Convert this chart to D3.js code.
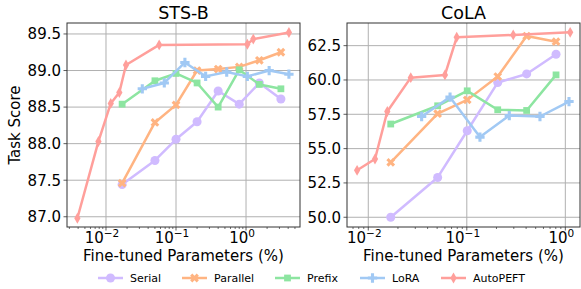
<!DOCTYPE html>
<meta charset="utf-8">
<style>
body { margin: 0; background: #fff; }
text { font-family: "DejaVu Sans", sans-serif; fill: #000; }
</style>
<body>
<script src="https://d3js.org/d3.v7.min.js"></script>
<script>

// methods / legend
const methods = ["Serial", "Parallel", "Prefix", "LoRA", "AutoPEFT"];
const colors  = ["#d0bbff", "#ffb482", "#8de5a1", "#a1c9f4", "#ff9f9b"];

// STS-B (fine-tuned params %, task score)
const stsbSerialX   = [0.017, 0.05, 0.1, 0.2, 0.4, 0.8, 1.55, 3.15];
const stsbSerialY   = [87.44, 87.77, 88.06, 88.30, 88.72, 88.54, 88.83, 88.61];
const stsbParallelX = [0.017, 0.05, 0.1, 0.2, 0.4, 0.8, 1.55, 3.15];
const stsbParallelY = [87.46, 88.29, 88.53, 89.00, 89.02, 89.05, 89.14, 89.25];
const stsbPrefixX   = [0.017, 0.05, 0.1, 0.2, 0.4, 0.8, 1.55, 3.15];
const stsbPrefixY   = [88.54, 88.86, 88.96, 88.83, 88.50, 89.01, 88.81, 88.75];
const stsbLoraX     = [0.033, 0.068, 0.134, 0.265, 0.53, 1.045, 2.14, 4.1];
const stsbLoraY     = [88.75, 88.83, 89.11, 88.92, 88.98, 88.92, 89.00, 88.95];
const stsbAutoX     = [0.0039, 0.0078, 0.0117, 0.0155, 0.0193, 0.0575, 1.045, 1.27, 4.1];
const stsbAutoY     = [86.98, 88.03, 88.55, 88.70, 89.075, 89.35, 89.36, 89.43, 89.52];

// CoLA
const colaSerialX   = [0.0169, 0.0506, 0.101, 0.206, 0.405, 0.805];
const colaSerialY   = [50.0, 52.9, 56.3, 59.81, 60.44, 61.87];
const colaParallelX = [0.0169, 0.0506, 0.101, 0.206, 0.405, 0.805];
const colaParallelY = [54.0, 57.54, 58.55, 60.25, 63.2, 62.79];
const colaPrefixX   = [0.0169, 0.0506, 0.101, 0.206, 0.405, 0.805];
const colaPrefixY   = [56.79, 58.12, 59.21, 57.83, 57.78, 60.37];
const colaLoraX     = [0.0348, 0.0676, 0.136, 0.27, 0.553, 1.09];
const colaLoraY     = [57.34, 58.75, 55.84, 57.41, 57.34, 58.43];
const colaAutoX     = [0.0077, 0.0117, 0.0156, 0.027, 0.060, 0.079, 0.296, 1.12];
const colaAutoY     = [53.42, 54.24, 57.7, 60.17, 60.37, 63.11, 63.28, 63.47];

const stsbTicksY = [87.0, 87.5, 88.0, 88.5, 89.0, 89.5];
const colaTicksY = [50.0, 52.5, 55.0, 57.5, 60.0, 62.5];
const ticksX = [0.01, 0.1, 1];
const xExpLabels = ["\u22122", "\u22121", "0"];

var W = 581, H = 289;
var svg = d3.select("body").append("svg").attr("width", W).attr("height", H);

var symbols = [
  d3.symbol().type(d3.symbolCircle).size(64),
  d3.symbol().type(d3.symbolCross).size(48),   // X (rotated)
  d3.symbol().type(d3.symbolSquare).size(46),
  d3.symbol().type(d3.symbolCross).size(48),   // P
  d3.symbol().type(d3.symbolDiamond).size(34)
];
var rotate = [0, 45, 0, 0, 0];

function zipXY(xs, ys) { return xs.map(function(x, i) { return [x, ys[i]]; }); }

function drawPanel(opts) {
  var x = d3.scaleLog().domain(opts.xDomain).range([opts.left, opts.right]);
  var y = d3.scaleLinear().domain(opts.yDomain).range([opts.bottom, opts.top]);
  var g = svg.append("g");

  // grid
  g.selectAll(".gx").data(ticksX).enter().append("line")
    .attr("x1", d => x(d)).attr("x2", d => x(d))
    .attr("y1", opts.top).attr("y2", opts.bottom)
    .attr("stroke", "#b0b0b0").attr("stroke-width", 1);
  g.selectAll(".gy").data(opts.ticksY).enter().append("line")
    .attr("x1", opts.left).attr("x2", opts.right)
    .attr("y1", d => y(d)).attr("y2", d => y(d))
    .attr("stroke", "#b0b0b0").attr("stroke-width", 1);

  // series
  opts.series.forEach(function(s, i) {
    var pts = zipXY(s[0], s[1]);
    g.append("path").datum(pts)
      .attr("fill", "none").attr("stroke", colors[i]).attr("stroke-width", 2.5)
      .attr("stroke-linejoin", "round")
      .attr("d", d3.line().x(d => x(d[0])).y(d => y(d[1])));
    g.selectAll(".m" + i).data(pts).enter().append("path")
      .attr("d", symbols[i])
      .attr("fill", colors[i])
      .attr("transform", d => "translate(" + x(d[0]) + "," + y(d[1]) + ") rotate(" + rotate[i] + ")");
  });

  // x axis: major + minor ticks
  var minor = x.ticks().filter(t => ticksX.indexOf(t) < 0);
  g.selectAll(".mt").data(minor).enter().append("line")
    .attr("x1", d => x(d)).attr("x2", d => x(d))
    .attr("y1", opts.bottom).attr("y2", opts.bottom + 2)
    .attr("stroke", "#333").attr("stroke-width", 0.7);
  g.selectAll(".Mt").data(ticksX).enter().append("line")
    .attr("x1", d => x(d)).attr("x2", d => x(d))
    .attr("y1", opts.bottom).attr("y2", opts.bottom + 3.5)
    .attr("stroke", "#333").attr("stroke-width", 0.8);
  var xl = g.selectAll(".xl").data(ticksX).enter().append("text")
    .attr("x", (d, i) => x(d) - 4).attr("y", opts.bottom + 16)
    .attr("text-anchor", "middle").attr("font-size", "15px");
  xl.append("tspan").text("10");
  xl.append("tspan").attr("dy", -6).attr("font-size", "10.5px").text((d, i) => xExpLabels[i]);

  // y axis
  g.selectAll(".yt").data(opts.ticksY).enter().append("line")
    .attr("x1", opts.left - 3.5).attr("x2", opts.left)
    .attr("y1", d => y(d)).attr("y2", d => y(d))
    .attr("stroke", "#333").attr("stroke-width", 0.8);
  g.selectAll(".yl").data(opts.ticksY).enter().append("text")
    .attr("x", opts.left - 6).attr("y", d => y(d)).attr("dy", "0.36em")
    .attr("text-anchor", "end").attr("font-size", "15px")
    .text(d => d3.format(".1f")(d));

  // frame
  g.append("rect")
    .attr("x", opts.left).attr("y", opts.top)
    .attr("width", opts.right - opts.left).attr("height", opts.bottom - opts.top)
    .attr("fill", "none").attr("stroke", "#333").attr("stroke-width", 1);

  // title + x label
  g.append("text").attr("x", (opts.left + opts.right) / 2).attr("y", 19)
    .attr("text-anchor", "middle").attr("font-size", "17.5px").text(opts.title);
  g.append("text").attr("x", (opts.left + opts.right) / 2).attr("y", 261)
    .attr("text-anchor", "middle").attr("font-size", "15px").text("Fine-tuned Parameters (%)");
}

drawPanel({
  title: "STS-B", left: 67, right: 300, top: 23, bottom: 227,
  xDomain: [Math.pow(10, -2.557), Math.pow(10, 0.771)], yDomain: [86.86, 89.65],
  ticksY: stsbTicksY,
  series: [[stsbSerialX, stsbSerialY], [stsbParallelX, stsbParallelY], [stsbPrefixX, stsbPrefixY],
           [stsbLoraX, stsbLoraY], [stsbAutoX, stsbAutoY]]
});
drawPanel({
  title: "CoLA", left: 347, right: 580, top: 23, bottom: 227,
  xDomain: [Math.pow(10, -2.216), Math.pow(10, 0.149)], yDomain: [49.29, 64.15],
  ticksY: colaTicksY,
  series: [[colaSerialX, colaSerialY], [colaParallelX, colaParallelY], [colaPrefixX, colaPrefixY],
           [colaLoraX, colaLoraY], [colaAutoX, colaAutoY]]
});

svg.append("text")
  .attr("transform", "translate(20,125) rotate(-90)")
  .attr("text-anchor", "middle").attr("font-size", "15px").text("Task Score");

// legend
var legX = [98, 182, 275, 360, 441];
var leg = svg.selectAll(".legend").data(methods).enter().append("g")
  .attr("transform", (d, i) => "translate(" + legX[i] + ",278)");
leg.append("line").attr("x1", 0).attr("x2", 25)
  .attr("stroke", (d, i) => colors[i]).attr("stroke-width", 2.5);
leg.append("path")
  .attr("d", (d, i) => symbols[i]())
  .attr("fill", (d, i) => colors[i])
  .attr("transform", (d, i) => "translate(12.5,0) rotate(" + rotate[i] + ")");
leg.append("text").attr("x", 32).attr("dy", "0.36em")
  .attr("font-size", "11px").text(d => d);

</script>
</body>
